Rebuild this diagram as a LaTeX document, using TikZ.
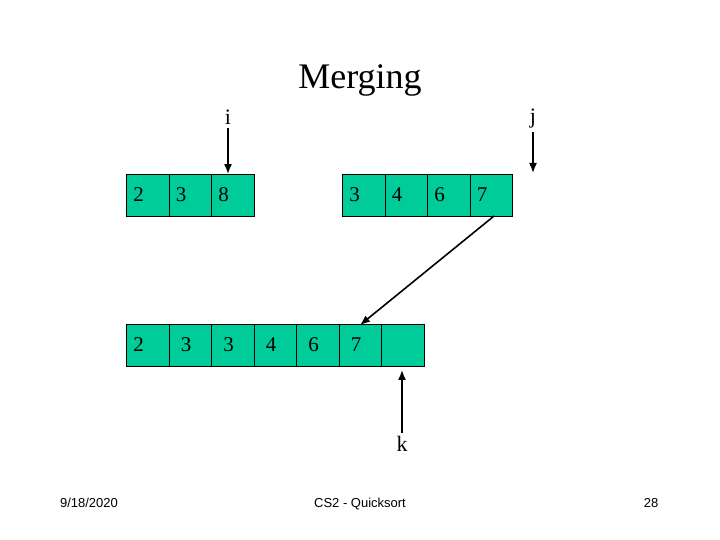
\documentclass[tikz,border=0pt]{standalone}
\usepackage{fontspec}
\setmainfont{Liberation Serif}
\newfontfamily\footfont{Liberation Sans}
\usetikzlibrary{positioning}
\usetikzlibrary{arrows.meta}
\definecolor{cellgreen}{RGB}{0,204,153}

\begin{document}
\begin{tikzpicture}[x=1pt,y=-1pt,node distance=42.5pt,on grid,
   cell/.style={draw,fill=cellgreen,minimum width=42.5pt,minimum height=41.5pt,
      text width=28.5pt,inner xsep=7pt,align=left,font=\fontsize{21}{24}\selectfont},
   padcell/.style={cell,text width=18.5pt,inner xsep=12pt},
   ptr/.style={font=\fontsize{22}{26}\selectfont},
   move/.style={-{Latex[length=10pt,width=8pt]},line width=1.6pt},
   foot/.style={anchor=base,font=\footfont\fontsize{13}{15}\selectfont}]
   \useasboundingbox (0,0) rectangle (720,540);
   \node[font=\fontsize{36}{40}\selectfont] (title) at (360,80) {Merging};
   % left half
   \node[cell] (a1) at (147.5,195) {2};
   \node[cell] (a2) [right=of a1] {3};
   \node[cell] (a3) [right=of a2] {8};
   % right half
   \node[cell] (r1) at (363.6,195) {3};
   \node[cell] (r2) [right=of r1] {4};
   \node[cell] (r3) [right=of r2] {6};
   \node[cell] (r4) [right=of r3] {7};
   % merged
   \node[cell] (b1) at (147.5,345) {2};
   \node[padcell] (b2) [right=of b1] {3};
   \node[padcell] (b3) [right=of b2] {3};
   \node[padcell] (b4) [right=of b3] {4};
   \node[padcell] (b5) [right=of b4] {6};
   \node[padcell] (b6) [right=of b5] {7};
   \node[cell] (b7) [right=of b6] {};
   % pointers
   \node[ptr] (i) at (228,117) {i};
   \node[ptr] (j) at (533,119) {j};
   \node[ptr] (k) at (402,444) {k};
   \coordinate (jend) at (533,173);
   \draw[move] (i.south) -- (i.south |- a3.north);
   \draw[move] (j.south) -- (jend);
   \draw[move,shorten >=4pt] (k.north) -- (k |- b7.south);
   \draw[move] ([xshift=3pt]r4.south) -- ([yshift=-1pt]b6.north);
   % footer
   \node[foot] (date) at (89,507.5) {9/18/2020};
   \node[foot] (course) at (360,507.5) {CS2 - Quicksort};
   \node[foot] (page) at (651,507.5) {28};
\end{tikzpicture}
\end{document}
